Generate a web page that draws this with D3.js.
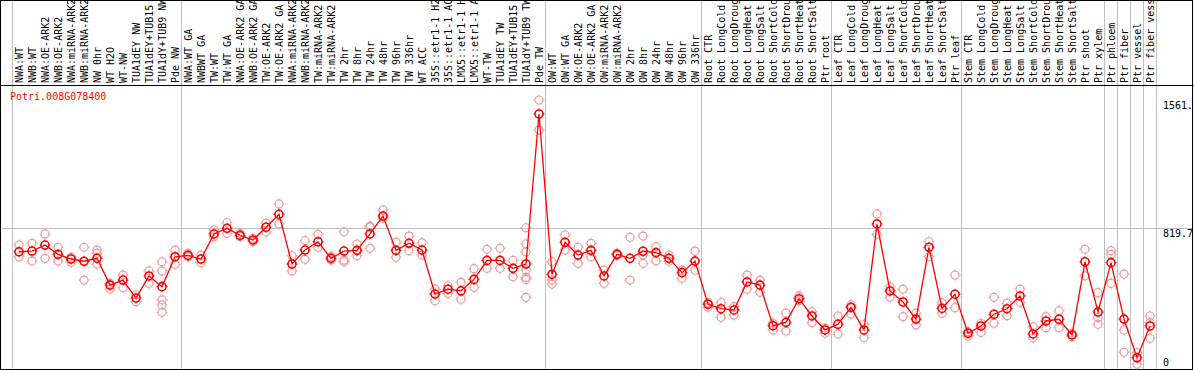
<!DOCTYPE html>
<html>
<head>
<meta charset="utf-8">
<script src="https://cdn.jsdelivr.net/npm/d3@7"></script>
<style>
  body { margin: 0; background: #fff; }
  text { font-family: "DejaVu Sans Mono", monospace; font-size: 10px; }
</style>
</head>
<body>
<div id="chart"></div>
<script>
// sample labels, left to right
var samples = [
  "NWA:WT", "NWB:WT", "NWA:OE-ARK2", "NWB:OE-ARK2", "NWA:miRNA-ARK2", "NWB:miRNA-ARK2",
  "NW 0hr", "WT H2O", "WT-NW", "TUA1dEY NW", "TUA1dEY+TUB15 NW", "TUA1dY+TUB9 NW", "Pde NW",
  "NWA:WT GA", "NWBWT GA", "TW:WT", "TW:WT GA", "NWA:OE-ARK2 GA", "NWB:OE-ARK2 GA",
  "TW:OE-ARK2", "TW:OE-ARK2 GA", "NWA:miRNA-ARK2 GA", "NWB:miRNA-ARK2 GA", "TW:miRNA-ARK2",
  "TW:miRNA-ARK2 GA", "TW 2hr", "TW 8hr", "TW 24hr", "TW 48hr", "TW 96hr", "TW 336hr", "WT ACC",
  "35S::etr1-1 H2O", "35S::etr1-1 ACC", "LMX5::etr1-1 H2O", "LMX5::etr1-1 ACC", "WT-TW",
  "TUA1dEY TW", "TUA1dEY+TUB15 TW", "TUA1dY+TUB9 TW", "Pde TW",
  "OW:WT", "OW:WT GA", "OW:OE-ARK2", "OW:OE-ARK2 GA", "OW:miRNA-ARK2", "OW:miRNA-ARK2 GA",
  "OW 2hr", "OW 8hr", "OW 24hr", "OW 48hr", "OW 96hr", "OW 336hr",
  "Root CTR", "Root LongCold", "Root LongDrought", "Root LongHeat", "Root LongSalt",
  "Root ShortCold", "Root ShortDrought", "Root ShortHeat", "Root ShortSalt", "Ptr root",
  "Leaf CTR", "Leaf LongCold", "Leaf LongDrought", "Leaf LongHeat", "Leaf LongSalt",
  "Leaf ShortCold", "Leaf ShortDrought", "Leaf ShortHeat", "Leaf ShortSalt", "Ptr leaf",
  "Stem CTR", "Stem LongCold", "Stem LongDrought", "Stem LongHeat", "Stem LongSalt",
  "Stem ShortCold", "Stem ShortDrought", "Stem ShortHeat", "Stem ShortSalt", "Ptr shoot", "Ptr xylem",
  "Ptr phloem", "Ptr fiber", "Ptr vessel", "Ptr fiber vessel"
];

// first sample index of each group (last entry = end)
var groupStarts = [0, 13, 41, 53, 63, 73, 84, 85, 86, 87, 88];

// mean expression per sample
var means = [
  682, 686, 721, 667, 640, 627, 644, 489, 518, 414, 542, 480, 653,
  661, 640, 785, 818, 777, 750, 824, 899, 611, 692, 740, 644, 686, 690, 785, 889,
  690, 731, 692, 437, 465, 456, 522, 632, 632, 586, 611, 1480,
  551, 737, 663, 690, 542, 667, 644, 685, 677, 644, 561, 628,
  378, 352, 345, 507, 489, 254, 273, 410, 310, 229,
  262, 360, 229, 843, 455, 391, 292, 708, 354, 436,
  210, 252, 320, 352, 426, 206, 281, 291, 200, 624, 333,
  619, 292, 68, 252
];

// replicate values per sample
var replicates = [
  [721, 653], [731, 628], [785, 644], [708, 628], [650, 621], [708, 518, 627],
  [692, 673, 611], [499, 466], [547, 474], [433, 393], [571, 499],
  [624, 571, 403, 374, 331], [692, 609],
  [673, 653], [663, 619], [808, 769], [850, 789], [789, 769], [759, 741], [847, 796],
  [959, 843], [659, 571], [746, 638], [783, 708], [654, 634], [798, 634, 624],
  [727, 659], [831, 824, 702], [924, 876], [738, 650], [773, 688], [734, 663],
  [465, 398], [485, 441], [505, 407], [584, 476], [696, 586], [702, 586], [632, 537],
  [821, 727, 681, 576, 534, 522, 418], [1561, 1387],
  [624, 518, 495], [779, 692], [708, 615], [731, 653], [576, 499], [673, 659],
  [766, 518], [773, 663, 615], [711, 630], [663, 644, 627], [576, 528], [686, 575],
  [387, 360], [387, 302], [364, 316], [547, 465], [518, 447], [268, 229], [326, 223],
  [426, 398], [335, 271], [240, 210],
  [310, 206], [374, 321], [262, 184], [901, 783], [480, 418], [465, 306], [326, 258],
  [740, 653], [387, 326], [547, 358],
  [219, 194], [268, 215], [418, 268], [383, 312], [466, 389], [248, 184], [306, 242],
  [341, 242], [210, 190], [696, 543], [445, 300, 262],
  [688, 667, 499], [553, 229, 100], [97, 30], [310, 271, 181]
];

var yTicks = [0, 819.7, 1561];
var geneId = "Potri.008G078400";

var W = 1194, H = 370;
var headerY = 85, plotRight = 1155.5;

var svg = d3.select("#chart").append("svg")
    .attr("width", W)
    .attr("height", H);

svg.append("rect")
    .attr("width", W).attr("height", H)
    .attr("fill", "#fff");

var x = d3.scaleBand()
    .domain(d3.range(samples.length))
    .range([11.5, plotRight]);

var y = d3.scaleLinear()
    .domain([0, 1561])
    .range([369.5, 100]);

function cx(i) { return x(i) + 7.5; }

// group separators
svg.selectAll("line.sep")
  .data(groupStarts)
  .enter()
  .append("line")
    .attr("x1", function(d) { return Math.round(11.5 + d * 13) + 0.5; })
    .attr("x2", function(d) { return Math.round(11.5 + d * 13) + 0.5; })
    .attr("y1", 0)
    .attr("y2", H)
    .attr("stroke", "#c0c0c0");

// horizontal grid line at the middle tick
svg.append("line")
    .attr("x1", 2).attr("x2", W - 1)
    .attr("y1", Math.round(y(yTicks[1])) + 0.5)
    .attr("y2", Math.round(y(yTicks[1])) + 0.5)
    .attr("stroke", "#c0c0c0");

// borders
svg.append("rect")
    .attr("x", 0.5).attr("y", 0.5)
    .attr("width", W - 2).attr("height", H - 1)
    .attr("fill", "none")
    .attr("stroke", "#000");
svg.append("line")
    .attr("x1", 0).attr("x2", W)
    .attr("y1", headerY + 0.5).attr("y2", headerY + 0.5)
    .attr("stroke", "#000");

// rotated sample labels
svg.selectAll("text.lab")
  .data(samples)
  .enter()
  .append("text")
    .attr("transform", function(d, i) {
      return "translate(" + (cx(i) + 3.5) + "," + (headerY - 2) + ") rotate(-90)";
    })
    .attr("fill", "#000")
    .text(function(d) { return d; });

// y tick labels, clipped at the right border
svg.append("clipPath").attr("id", "rclip")
  .append("rect")
    .attr("x", plotRight).attr("y", headerY)
    .attr("width", W - 1 - plotRight).attr("height", H - headerY);

svg.append("g")
    .attr("clip-path", "url(#rclip)")
  .selectAll("text")
  .data(yTicks)
  .enter()
  .append("text")
    .attr("x", 1163)
    .attr("y", function(d) { return Math.min(y(d) + 9, 366); })
    .attr("fill", "#000")
    .text(function(d) { return d === 1561 ? "1561.35" : String(d); });

// gene name
svg.append("text")
    .attr("x", 10).attr("y", 100)
    .attr("fill", "#ff0000")
    .text(geneId);

// circle marker with small ticks
function marker(g, px, py, color, sw) {
  g.append("circle")
      .attr("cx", px).attr("cy", py).attr("r", 4)
      .attr("fill", "none")
      .attr("stroke", color)
      .attr("stroke-width", sw);
  var t = [[0, -4, 0, -5.5], [0, 4, 0, 5.5], [-4, 0, -5.5, 0], [4, 0, 5.5, 0]];
  t.forEach(function(s) {
    g.append("line")
        .attr("x1", px + s[0]).attr("y1", py + s[1])
        .attr("x2", px + s[2]).attr("y2", py + s[3])
        .attr("stroke", color)
        .attr("stroke-width", 1);
  });
}

// replicates
var repG = svg.append("g");
replicates.forEach(function(reps, i) {
  reps.forEach(function(v) { marker(repG, cx(i), y(v), "#f09a9a", 1.2); });
});

// mean line
var line = d3.line()
    .x(function(d, i) { return cx(i); })
    .y(function(d) { return y(d); });

svg.append("path")
    .datum(means)
    .attr("d", line)
    .attr("fill", "none")
    .attr("stroke", "#ff0000")
    .attr("stroke-width", 1.3);

var meanG = svg.append("g");
means.forEach(function(v, i) { marker(meanG, cx(i), y(v), "#ff0000", 1.6); });
</script>
</body>
</html>
